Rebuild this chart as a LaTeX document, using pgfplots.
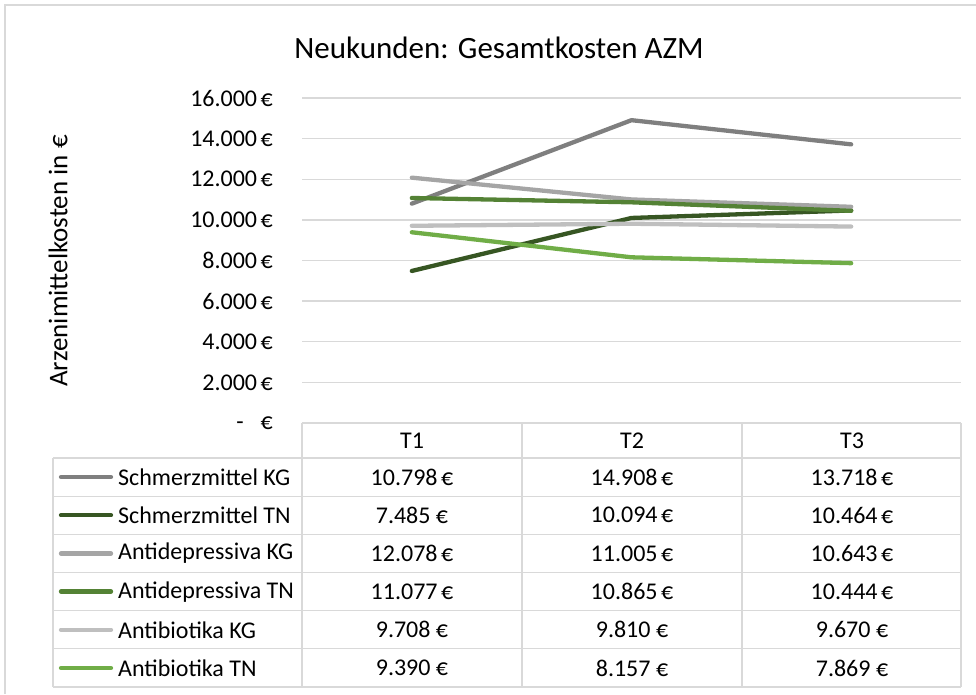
\documentclass[border=0pt]{standalone}
\usepackage{pgfplots}
\pgfplotsset{compat=1.18}
\usepackage{pgfplotstable}
\usepackage{fontspec}
\setmainfont{Carlito}
\definecolor{cSKG}{HTML}{7F7F7F}
\definecolor{cSTN}{HTML}{375623}
\definecolor{cAKG}{HTML}{A5A5A5}
\definecolor{cATN}{HTML}{548235}
\definecolor{cBKG}{HTML}{BFBFBF}
\definecolor{cBTN}{HTML}{70AD47}
\definecolor{gridc}{HTML}{D9D9D9}
\newcommand\fs{\fontsize{24}{28}\selectfont}
\newcommand\eu{\hspace{3.5pt}€}

\pgfplotstableread{
t SKG STN AKG ATN BKG BTN
1 10798 7485 12078 11077 9708 9390
2 14908 10094 11005 10865 9810 8157
3 13718 10464 10643 10444 9670 7869
}\data

\begin{document}
\begin{tikzpicture}
\path[use as bounding box] (0,0) rectangle (976pt,694pt);
\begin{axis}[
  at={(302pt,271pt)}, anchor=south west,
  width=659pt, height=325pt, scale only axis,
  xmin=0.5, xmax=3.5, ymin=0, ymax=16000,
  axis line style={draw=none},
  xtick=\empty,
  scaled y ticks=false,
  ytick={0,2000,4000,6000,8000,10000,12000,14000,16000},
  yticklabels={{-\hspace{0.7em}€},{2.000\eu},{4.000\eu},{6.000\eu},{8.000\eu},{10.000\eu},{12.000\eu},{14.000\eu},{16.000\eu}},
  ymajorgrids,
  grid style={gridc, line width=1.3pt},
  major tick length=0pt,
  yticklabel style={font=\fs, anchor=east, inner sep=0pt, xshift=-29pt},
  /pgf/number format/assume math mode=true,
  clip=false,
]
\addplot[cSKG, line width=4.3pt, line cap=round, line join=round] table[x=t,y=SKG]{\data};
\addplot[cSTN, line width=4.3pt, line cap=round, line join=round] table[x=t,y=STN]{\data};
\addplot[cAKG, line width=4.3pt, line cap=round, line join=round] table[x=t,y=AKG]{\data};
\addplot[cATN, line width=4.3pt, line cap=round, line join=round] table[x=t,y=ATN]{\data};
\addplot[cBKG, line width=4.3pt, line cap=round, line join=round] table[x=t,y=BKG]{\data};
\addplot[cBTN, line width=4.3pt, line cap=round, line join=round] table[x=t,y=BTN]{\data};
\end{axis}
\begin{scope}[x=1pt, y=-1pt, shift={(0pt,694pt)}]
  % outer frame
  \draw[gridc, line width=1.3pt] (5,694) -- (5,5) -- (976,5);
  % title
  \node[font=\fontsize{31}{36}\selectfont] at (499,47.5) {Neukunden: Gesamtkosten AZM};
  % y label
  \node[font=\fontsize{27}{32}\selectfont, rotate=90] at (58,261) {Arzenimittelkosten in €};
  % data table grid
  \begin{scope}[gridc, line width=1.3pt]
    \draw (302,423) -- (961,423);
    \foreach \yy in {458,496.2,534.3,572.5,610.7,648.8,687} {\draw (53,\yy) -- (961,\yy);}
    \foreach \xx in {302,522,742,961} {\draw (\xx,423) -- (\xx,687);}
    \draw (53,458) -- (53,687);
  \end{scope}
  % header
  \node[font=\fs] at (412,440.5) {T1};
  \node[font=\fs] at (632,440.5) {T2};
  \node[font=\fs] at (852,440.5) {T3};
  % legend keys and labels
  \foreach \yy/\cc/\lab in {477.1/cSKG/Schmerzmittel KG, 515.3/cSTN/Schmerzmittel TN, 553.4/cAKG/Antidepressiva KG, 591.6/cATN/Antidepressiva TN, 629.8/cBKG/Antibiotika KG, 667.9/cBTN/Antibiotika TN} {
    \draw[\cc, line width=4.3pt, line cap=round] (61,\yy) -- (111,\yy);
    \node[font=\fs, anchor=west, inner sep=0pt] at (118,\yy) {\lab};
  }
  % values
  \foreach \yy/\a/\b/\c in {477.1/10.798\eu/14.908\eu/13.718\eu,
                             515.3/7.485 €/10.094\eu/10.464\eu,
                             553.4/12.078\eu/11.005\eu/10.643\eu,
                             591.6/11.077\eu/10.865\eu/10.444\eu,
                             629.8/9.708 €/9.810 €/9.670 €,
                             667.9/9.390 €/8.157 €/7.869 €} {
    \node[font=\fs] at (412,\yy) {\a};
    \node[font=\fs] at (632,\yy) {\b};
    \node[font=\fs] at (852,\yy) {\c};
  }
\end{scope}
\end{tikzpicture}
\end{document}
